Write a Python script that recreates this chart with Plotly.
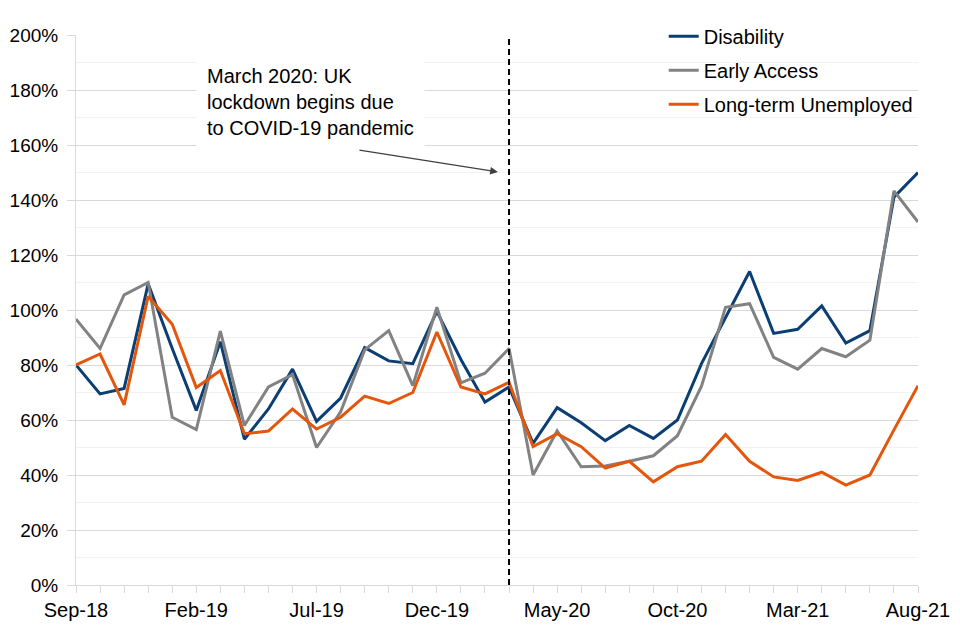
import plotly.graph_objects as go

months = ["Sep-18", "Oct-18", "Nov-18", "Dec-18", "Jan-19", "Feb-19", "Mar-19", "Apr-19",
          "May-19", "Jun-19", "Jul-19", "Aug-19", "Sep-19", "Oct-19", "Nov-19", "Dec-19",
          "Jan-20", "Feb-20", "Mar-20", "Apr-20", "May-20", "Jun-20", "Jul-20", "Aug-20",
          "Sep-20", "Oct-20", "Nov-20", "Dec-20", "Jan-21", "Feb-21", "Mar-21", "Apr-21",
          "May-21", "Jun-21", "Jul-21", "Aug-21"]

disability = [80, 69.5, 71.5, 109.5, 86, 63.5, 88.5, 53, 64, 78.5, 59.5, 68,
              86.3, 81.5, 80.5, 99.5, 82, 66.5, 72, 51.5, 64.5, 59, 52.5, 58,
              53.3, 60, 80.5, 97.5, 114, 91.5, 93, 101.5, 88, 92.5, 141, 150]

early_access = [96.7, 86, 105.5, 110, 61, 56.5, 92.3, 58, 72, 76.5, 50, 63,
                85.5, 92.5, 72.5, 101, 73.5, 77, 86, 40, 56, 43, 43.3, 45,
                47, 54.3, 72.3, 101, 102.3, 82.8, 78.5, 86, 83, 89, 143.3, 132]

long_term_unemployed = [80, 84, 65.5, 105, 94.8, 71.8, 78, 55, 56, 64, 56.7, 61,
                        68.7, 66, 70, 92, 72, 69.5, 73.7, 50.3, 55, 50.3, 42.5, 45,
                        37.5, 43, 45, 54.7, 45, 39.3, 38, 41, 36.3, 40, 56.4, 72.5]

tick_labels = ["Sep-18", "Feb-19", "Jul-19", "Dec-19", "May-20", "Oct-20", "Mar-21", "Aug-21"]

series = [
    ("Disability", disability, "#0b3e73"),
    ("Early Access", early_access, "#828282"),
    ("Long-term Unemployed", long_term_unemployed, "#e4560c"),
]

FONT = "Liberation Sans, Arial, sans-serif"

fig = go.Figure()
for i, (name, vals, col) in enumerate(series):
    fig.add_trace(go.Scatter(
        x=months, y=vals, name=name, mode="lines",
        line=dict(color=col, width=3), legendgroup=f"g{i}",
        cliponaxis=False,
    ))

ticktext = [m if m in tick_labels else "" for m in months]

lock_idx = months.index("Mar-20")

fig.add_shape(type="line", xref="x", yref="paper", x0=lock_idx, x1=lock_idx, y0=0, y1=1,
              line=dict(color="black", width=2, dash="6px,4px"))

fig.add_annotation(
    xref="paper", yref="paper", x=0.1425, y=0.878,
    xanchor="left", yanchor="middle",
    text="March 2020: UK<br>lockdown begins due<br>to COVID-19 pandemic",
    showarrow=False, align="left",
    font=dict(family=FONT, size=20, color="black"),
    bgcolor="white", borderpad=10,
)

fig.add_annotation(
    xref="x", yref="y", axref="x", ayref="y",
    x=17.54, y=150.2, ax=11.72, ay=158.2,
    text="", showarrow=True, arrowhead=2, arrowsize=1.2, arrowwidth=1.3,
    arrowcolor="#404040",
)

fig.update_layout(
    width=960, height=640,
    margin=dict(l=68, r=50, t=27, b=63, autoexpand=False),
    paper_bgcolor="white", plot_bgcolor="white",
    font=dict(family=FONT, size=20, color="black"),
    showlegend=True,
    legend=dict(x=0.698, xanchor="left", y=1.033, yanchor="top",
                font=dict(family=FONT, size=20, color="black"),
                tracegroupgap=5, bgcolor="rgba(0,0,0,0)"),
    xaxis=dict(
        type="category", range=[0, len(months) - 1],
        tickmode="array", tickvals=months, ticktext=ticktext,
        ticks="outside", ticklen=7, tickcolor="#d9d9d9", tickwidth=1,
        showline=True, linecolor="#d9d9d9", linewidth=1,
        showgrid=False, zeroline=False, automargin=False,
        tickfont=dict(family=FONT, size=20, color="black"),
    ),
    yaxis=dict(
        range=[0, 200], dtick=20, ticksuffix="%",
        ticks="outside", ticklen=8, tickcolor="#d9d9d9", tickwidth=1,
        showline=True, linecolor="#d9d9d9", linewidth=1,
        showgrid=True, gridcolor="#d9d9d9", gridwidth=1,
        minor=dict(dtick=10, showgrid=True, gridcolor="#f2f2f2", ticks=""),
        zeroline=False, ticklabelstandoff=5, automargin=False,
        tickfont=dict(family=FONT, size=19, color="black"),
    ),
)

fig.write_html("out.html")
